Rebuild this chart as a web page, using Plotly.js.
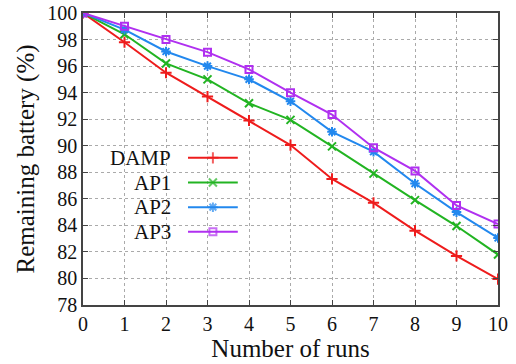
<!DOCTYPE html>
<html>
<head>
<meta charset="utf-8">
<script src="https://cdn.plot.ly/plotly-3.0.1.min.js"></script>
<style>html,body{margin:0;padding:0;background:#fff;}</style>
</head>
<body>
<div id="chart"></div>
<script>
const runs = [0,1,2,3,4,5,6,7,8,9,10];
const seriesNames = ["DAMP","AP1","AP2","AP3"];
const damp = [100,97.8,95.5,93.7,91.9,90.05,87.5,85.7,83.6,81.7,79.95];
const ap1  = [100,98.4,96.2,95.0,93.2,91.95,89.95,87.9,85.9,83.95,81.8];
const ap2  = [100,98.75,97.1,96.0,95.0,93.35,91.05,89.55,87.15,85.0,83.05];
const ap3  = [100,99.0,98.0,97.05,95.75,94.0,92.35,89.85,88.1,85.5,84.1];
const yTicks = [78,80,82,84,86,88,90,92,94,96,98,100];
const xTicks = runs;

const values = [damp, ap1, ap2, ap3];
const colors = ["#ee1c1c","#22b422","#2288ee","#b030f0"];
const symbols = ["cross-thin-open","x-thin-open","asterisk-open","square-open"];
const FAM = 'Liberation Serif';

const traces = [];
values.forEach((v,i)=>{
  traces.push({
    x: runs, y: v, type:'scatter', mode:'lines+markers', name: seriesNames[i],
    line:{color:colors[i], width:2},
    marker:{symbol:symbols[i], size:(i===3?7:8), color:colors[i], line:{color:colors[i], width:2}},
    showlegend:false, hoverinfo:'skip'
  });
});

// custom legend (text left, sample line on the right) on an overlay axis
const annotations = [];
const legTop = 0.504, legStep = 0.0845;
seriesNames.forEach((n,i)=>{
  const yy = legTop - i*legStep;
  traces.push({
    x:[0.253,0.313,0.373], y:[yy,yy,yy], xaxis:'x2', yaxis:'y2',
    type:'scatter', mode:'lines+markers', showlegend:false, hoverinfo:'skip',
    line:{color:colors[i], width:2},
    marker:{symbol:symbols[i], size:[0,(i===3?7:8),0], color:colors[i], line:{color:colors[i], width:2}}
  });
  annotations.push({
    xref:'paper', yref:'paper', x:0.217, y:yy, xanchor:'right', yanchor:'middle',
    text:n, showarrow:false, font:{family:FAM, size:21, color:'#111'}
  });
});

const layout = {
  width:516, height:364,
  margin:{l:83, r:18, t:13, b:59},
  paper_bgcolor:'#fff', plot_bgcolor:'#fff',
  showlegend:false,
  xaxis:{
    range:[0,10], tickvals:xTicks, ticktext:xTicks.map(String),
    ticks:'inside', ticklen:5, tickcolor:'#444', mirror:'ticks',
    showline:true, linecolor:'#444', linewidth:1.5,
    showgrid:true, gridcolor:'#aaa', griddash:'dot', gridwidth:1,
    zeroline:false, tickfont:{family:FAM, size:20, color:'#111'},
    title:{text:'Number of runs', font:{family:FAM, size:25, color:'#111'}, standoff:2}
  },
  yaxis:{
    range:[78,100], tickvals:yTicks, ticktext:yTicks.map(String),
    ticks:'inside', ticklen:5, tickcolor:'#444', mirror:'ticks',
    showline:true, linecolor:'#444', linewidth:1.5,
    showgrid:true, gridcolor:'#aaa', griddash:'dot', gridwidth:1,
    zeroline:false, tickfont:{family:FAM, size:20, color:'#111'},
    title:{text:'Remaining battery (%)', font:{family:FAM, size:25, color:'#111'}, standoff:6}
  },
  xaxis2:{overlaying:'x', range:[0,1], visible:false, fixedrange:true},
  yaxis2:{overlaying:'y', range:[0,1], visible:false, fixedrange:true},
  annotations: annotations
};

Plotly.newPlot('chart', traces, layout, {displayModeBar:false});
</script>
</body>
</html>
